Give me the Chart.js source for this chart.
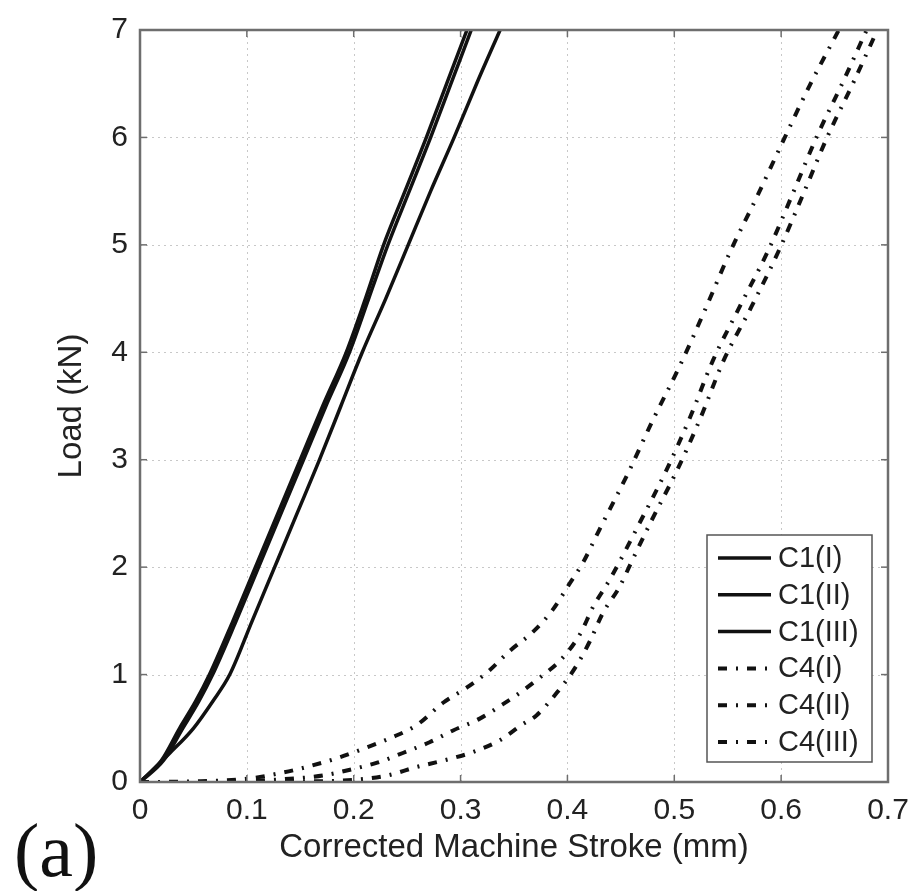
<!DOCTYPE html>
<html>
<head>
<meta charset="utf-8">
<script src="https://cdn.jsdelivr.net/npm/chart.js@4/dist/chart.umd.min.js"></script>
<style>
  body { margin: 0; background: #fff; }
  #wrap { position: relative; width: 921px; height: 891px; }
  #panel {
    position: absolute; left: 14px; top: 812px;
    font-family: "Liberation Serif", "DejaVu Serif", serif;
    font-size: 76px; color: #111; line-height: 1;
  }
</style>
</head>
<body>
<div id="wrap">
  <canvas id="myChart"></canvas>
  <div id="panel">(a)</div>
</div>
<script>
// 1. DATA
const xTicks = [0, 0.1, 0.2, 0.3, 0.4, 0.5, 0.6, 0.7];
const xTickLabels = ['0', '0.1', '0.2', '0.3', '0.4', '0.5', '0.6', '0.7'];
const yTicks = [0, 1, 2, 3, 4, 5, 6, 7];

const seriesLabels = ['C1(I)', 'C1(II)', 'C1(III)', 'C4(I)', 'C4(II)', 'C4(III)'];

const c1iX   = [0, 0.020, 0.037, 0.052, 0.065, 0.087, 0.108, 0.129, 0.150, 0.171, 0.193, 0.211, 0.228, 0.248, 0.268, 0.287, 0.306];
const c1iY   = [0, 0.2, 0.5, 0.75, 1.0, 1.5, 2.0, 2.5, 3.0, 3.5, 4.0, 4.5, 5.0, 5.5, 6.0, 6.5, 7.0];
const c1iiX  = [0, 0.022, 0.040, 0.055, 0.068, 0.090, 0.111, 0.132, 0.153, 0.174, 0.196, 0.214, 0.232, 0.252, 0.272, 0.291, 0.310];
const c1iiY  = [0, 0.2, 0.5, 0.75, 1.0, 1.5, 2.0, 2.5, 3.0, 3.5, 4.0, 4.5, 5.0, 5.5, 6.0, 6.5, 7.0];
const c1iiiX = [0, 0.028, 0.050, 0.068, 0.084, 0.105, 0.126, 0.147, 0.168, 0.188, 0.208, 0.230, 0.251, 0.272, 0.294, 0.315, 0.337];
const c1iiiY = [0, 0.27, 0.5, 0.75, 1.0, 1.5, 2.0, 2.5, 3.0, 3.5, 4.0, 4.5, 5.0, 5.5, 6.0, 6.5, 7.0];

const c4iX   = [0, 0.05, 0.10, 0.13, 0.156, 0.184, 0.209, 0.237, 0.259, 0.284, 0.306, 0.326, 0.346, 0.368, 0.386, 0.401, 0.415, 0.430, 0.456, 0.480, 0.505, 0.529, 0.552, 0.577, 0.602, 0.627, 0.654];
const c4iY   = [0, 0.005, 0.03, 0.08, 0.14, 0.22, 0.31, 0.42, 0.53, 0.74, 0.88, 1.03, 1.22, 1.40, 1.60, 1.83, 2.05, 2.35, 2.86, 3.37, 3.87, 4.40, 4.93, 5.44, 5.97, 6.49, 7.0];
const c4iiX  = [0, 0.05, 0.10, 0.14, 0.171, 0.203, 0.222, 0.246, 0.271, 0.293, 0.318, 0.339, 0.354, 0.374, 0.395, 0.412, 0.424, 0.440, 0.468, 0.493, 0.515, 0.536, 0.561, 0.588, 0.611, 0.633, 0.658, 0.680];
const c4iiY  = [0, 0.0, 0.01, 0.03, 0.06, 0.13, 0.18, 0.27, 0.37, 0.48, 0.59, 0.72, 0.82, 0.97, 1.15, 1.38, 1.63, 1.89, 2.42, 2.91, 3.40, 3.92, 4.42, 4.95, 5.48, 6.00, 6.52, 7.0];
const c4iiiX = [0, 0.05, 0.10, 0.15, 0.20, 0.231, 0.259, 0.284, 0.312, 0.337, 0.357, 0.371, 0.390, 0.407, 0.421, 0.433, 0.449, 0.460, 0.478, 0.503, 0.525, 0.546, 0.572, 0.598, 0.621, 0.643, 0.668, 0.690];
const c4iiiY = [0, 0, 0, 0.005, 0.02, 0.06, 0.14, 0.20, 0.28, 0.39, 0.53, 0.62, 0.83, 1.06, 1.31, 1.57, 1.82, 2.05, 2.42, 2.91, 3.40, 3.92, 4.42, 4.95, 5.48, 6.00, 6.52, 7.0];

// 2. HELPERS
const toPoints = (xs, ys) => xs.map((x, i) => ({ x: x, y: ys[i] }));
const dashDot = [9, 9, 2, 9];
const sansFamily = '"Liberation Sans", Arial, sans-serif';

function makeSet(label, xs, ys, dash) {
    return {
        label: label,
        data: toPoints(xs, ys),
        showLine: true,
        borderColor: '#111',
        borderWidth: dash.length ? 4 : 3.5,
        borderDash: dash,
        pointRadius: 0,
        cubicInterpolationMode: 'monotone',
        fill: false
    };
}

// 3. AXES FRAME: dotted grid, inward ticks, box, legend (drawn from the chart's scales)
const framePlugin = {
    id: 'frame',
    beforeDatasetsDraw(chart) {
        const { ctx, chartArea: a, scales: { x, y } } = chart;
        ctx.save();
        ctx.strokeStyle = '#c8c8c8';
        ctx.lineWidth = 1;
        ctx.setLineDash([2, 4]);
        xTicks.forEach(v => {
            const px = Math.round(x.getPixelForValue(v)) + 0.5;
            ctx.beginPath(); ctx.moveTo(px, a.top); ctx.lineTo(px, a.bottom); ctx.stroke();
        });
        yTicks.forEach(v => {
            const py = Math.round(y.getPixelForValue(v)) + 0.5;
            ctx.beginPath(); ctx.moveTo(a.left, py); ctx.lineTo(a.right, py); ctx.stroke();
        });
        ctx.restore();
    },
    afterDatasetsDraw(chart) {
        const { ctx, chartArea: a, scales: { x, y } } = chart;
        ctx.save();
        ctx.strokeStyle = '#6e6e6e';
        ctx.lineWidth = 1.5;
        xTicks.forEach(v => {
            const px = x.getPixelForValue(v);
            ctx.beginPath(); ctx.moveTo(px, a.bottom); ctx.lineTo(px, a.bottom - 7); ctx.stroke();
            ctx.beginPath(); ctx.moveTo(px, a.top); ctx.lineTo(px, a.top + 7); ctx.stroke();
        });
        yTicks.forEach(v => {
            const py = y.getPixelForValue(v);
            ctx.beginPath(); ctx.moveTo(a.left, py); ctx.lineTo(a.left + 7, py); ctx.stroke();
            ctx.beginPath(); ctx.moveTo(a.right, py); ctx.lineTo(a.right - 7, py); ctx.stroke();
        });
        ctx.lineWidth = 2.5;
        ctx.strokeRect(a.left, a.top, a.right - a.left, a.bottom - a.top);
        ctx.restore();
    },
    afterDraw(chart) {
        // legend box inside the axes, lower right corner
        const { ctx, chartArea: a } = chart;
        const boxL = a.right - 181, boxT = a.bottom - 247, boxW = 165, boxH = 227;
        ctx.save();
        ctx.fillStyle = '#fff';
        ctx.fillRect(boxL, boxT, boxW, boxH);
        ctx.strokeStyle = '#555';
        ctx.lineWidth = 1.5;
        ctx.strokeRect(boxL, boxT, boxW, boxH);
        ctx.font = '29px ' + sansFamily;
        ctx.textBaseline = 'middle';
        chart.data.datasets.forEach((ds, i) => {
            const cy = boxT + 23 + i * 36.8;
            ctx.strokeStyle = ds.borderColor;
            ctx.lineWidth = ds.borderWidth;
            ctx.setLineDash(ds.borderDash);
            ctx.beginPath(); ctx.moveTo(boxL + 11, cy); ctx.lineTo(boxL + 64, cy); ctx.stroke();
            ctx.setLineDash([]);
            ctx.fillStyle = '#222';
            ctx.fillText(ds.label, boxL + 71, cy + 1);
        });
        ctx.restore();
    }
};

// 4. CHART
document.addEventListener('DOMContentLoaded', function() {
    const ctx = document.getElementById('myChart').getContext('2d');
    const tickFont = { family: sansFamily, size: 30 };
    const titleFont = { family: sansFamily, size: 33 };

    new Chart(ctx, {
        type: 'scatter',
        data: {
            datasets: [
                makeSet(seriesLabels[0], c1iX, c1iY, []),
                makeSet(seriesLabels[1], c1iiX, c1iiY, []),
                makeSet(seriesLabels[2], c1iiiX, c1iiiY, []),
                makeSet(seriesLabels[3], c4iX, c4iY, dashDot),
                makeSet(seriesLabels[4], c4iiX, c4iiY, dashDot),
                makeSet(seriesLabels[5], c4iiiX, c4iiiY, dashDot)
            ]
        },
        options: {
            responsive: true,
            maintainAspectRatio: false,
            animation: false,
            layout: { padding: { left: 52, top: 23, right: 33, bottom: 23 } },
            scales: {
                x: {
                    type: 'linear',
                    min: 0,
                    max: 0.7,
                    afterBuildTicks: s => { s.ticks = xTicks.map(v => ({ value: v })); },
                    afterFit: s => { s.height = 86; },
                    grid: { display: false, drawTicks: false },
                    border: { display: false },
                    ticks: {
                        color: '#222',
                        font: tickFont,
                        padding: 11,
                        maxRotation: 0,
                        autoSkip: false,
                        callback: (v, i) => xTickLabels[i]
                    },
                    title: {
                        display: true,
                        text: 'Corrected Machine Stroke (mm)',
                        color: '#222',
                        font: titleFont,
                        padding: 0
                    }
                },
                y: {
                    min: 0,
                    max: 7,
                    afterBuildTicks: s => { s.ticks = yTicks.map(v => ({ value: v })); },
                    afterFit: s => { s.width = 88; },
                    grid: { display: false, drawTicks: false },
                    border: { display: false },
                    ticks: { color: '#222', font: tickFont, padding: 12, autoSkip: false },
                    title: {
                        display: true,
                        text: 'Load (kN)',
                        color: '#222',
                        font: titleFont,
                        padding: 0
                    }
                }
            },
            plugins: {
                legend: { display: false },
                tooltip: { enabled: false }
            }
        },
        plugins: [framePlugin]
    });
});
</script>
</body>
</html>
